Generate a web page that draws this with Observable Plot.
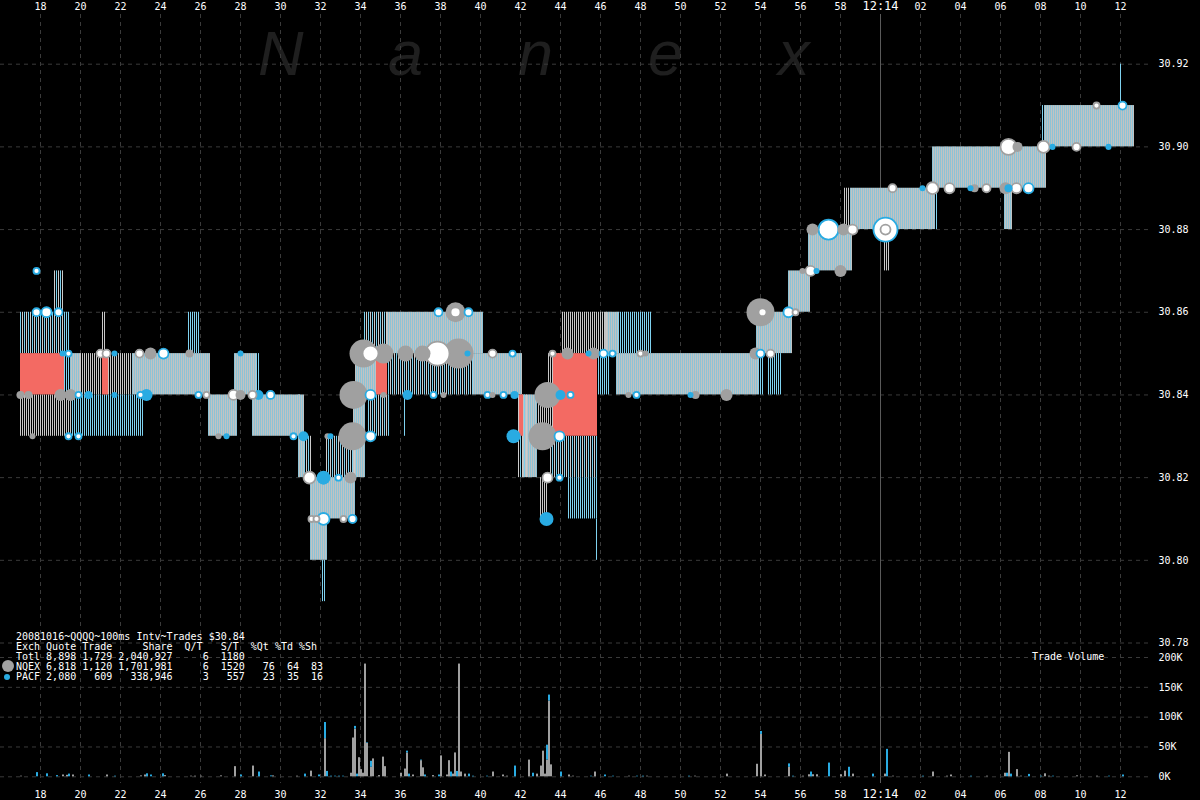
<!DOCTYPE html>
<html><head><meta charset="utf-8">
<script src="https://cdn.jsdelivr.net/npm/d3@7"></script>
<script src="https://cdn.jsdelivr.net/npm/@observablehq/plot@0.6"></script>
<style>
html,body{margin:0;padding:0;background:#000;}
#wrap{position:relative;width:1200px;height:800px;background:#000;overflow:hidden;}
#wrap svg{position:absolute;left:0;top:0;}
#stats{position:absolute;left:16px;top:631.6px;margin:0;font:10px/10px "DejaVu Sans Mono",monospace;color:#fff;white-space:pre;}
#vlabel{position:absolute;left:1032px;top:652px;margin:0;font:10px/10px "DejaVu Sans Mono",monospace;color:#fff;white-space:pre;}
</style></head>
<body><div id="wrap"></div>
<script>
// ---- axis ticks / labels ----
const timeTicks = [18,20,22,24,26,28,30,32,34,36,38,40,42,44,46,48,50,52,54,56,58,60,62,64,66,68,70,72];
const timeTickLabels = ["18","20","22","24","26","28","30","32","34","36","38","40","42","44","46","48","50","52","54","56","58","12:14","02","04","06","08","10","12"];
const priceTicks = [30.78,30.80,30.82,30.84,30.86,30.88,30.90,30.92];
const volumeTicks = [0,50000,100000,150000,200000];
const volumeTickLabels = ["0K","50K","100K","150K","200K"];

// ---- quote bands: [startSec, endSec, low, high, kind] (seconds after 12:13:00) ----
const quoteBands = [
 [17.0,19.2,30.85,30.86,"mix"],[18.65,19.2,30.86,30.87,"mix"],
 [17.0,19.6,30.83,30.84,"gray"],[19.6,23.2,30.83,30.84,"cyan"],
 [19.2,19.5,30.84,30.86,"cyan"],[19.5,20.0,30.84,30.85,"both"],
 [20.0,21.1,30.84,30.85,"gray"],[21.1,21.3,30.85,30.86,"gray"],
 [21.4,22.6,30.84,30.85,"gray"],[22.6,26.5,30.84,30.85,"both"],
 [25.35,26.0,30.85,30.86,"cyan"],[26.4,27.85,30.83,30.84,"both"],
 [27.7,28.8,30.84,30.85,"both"],[28.8,29.0,30.84,30.85,"cyan"],
 [28.6,31.0,30.83,30.84,"both"],[30.9,31.2,30.82,30.84,"both"],
 [31.2,31.6,30.82,30.83,"mix"],[31.5,32.35,30.80,30.82,"both"],
 [32.05,32.3,30.79,30.80,"cyan"],[32.2,33.75,30.81,30.82,"both"],
 [32.25,33.85,30.82,30.83,"mix"],[33.65,34.25,30.82,30.84,"both"],
 [33.75,34.8,30.84,30.85,"both"],[34.35,35.5,30.83,30.84,"mix"],
 [34.2,35.35,30.85,30.86,"mix"],[35.35,40.15,30.85,30.86,"both"],
 [35.35,39.65,30.84,30.85,"mix"],[39.65,42.1,30.84,30.85,"both"],
 [36.2,36.3,30.83,30.84,"cyan"],[41.85,42.35,30.82,30.84,"mix"],
 [42.15,42.85,30.82,30.84,"both"],[42.85,43.85,30.83,30.84,"gray"],
 [43.0,43.35,30.81,30.82,"gray"],[43.4,44.0,30.84,30.85,"gray"],
 [44.1,46.35,30.85,30.86,"gray"],[43.5,45.85,30.82,30.83,"mix"],
 [44.4,45.85,30.81,30.82,"cyan"],[45.8,45.9,30.80,30.81,"cyan"],
 [45.85,46.5,30.84,30.85,"cyan"],[46.25,46.9,30.85,30.86,"both"],
 [46.9,48.6,30.85,30.86,"cyan"],[46.8,53.9,30.84,30.85,"both"],
 [53.9,54.15,30.84,30.85,"cyan"],[54.4,55.1,30.84,30.85,"cyan"],
 [53.8,55.6,30.85,30.86,"both"],[55.4,56.5,30.86,30.87,"both"],
 [56.4,58.6,30.87,30.88,"both"],[58.2,58.5,30.88,30.89,"gray"],
 [58.5,62.75,30.88,30.89,"both"],[60.15,60.5,30.87,30.88,"gray"],
 [62.6,68.3,30.89,30.90,"both"],[62.75,62.85,30.88,30.89,"cyan"],
 [66.2,66.6,30.88,30.89,"both"],[68.1,68.2,30.90,30.91,"cyan"],
 [68.2,72.7,30.90,30.91,"both"],[72.0,72.1,30.91,30.92,"cyan"],
 [17.0,19.2,30.84,30.85,"red"],[21.1,21.4,30.84,30.85,"red"],
 [34.8,35.35,30.84,30.85,"red"],[41.95,42.15,30.83,30.84,"red"],
 [43.65,45.85,30.83,30.85,"red"]
];

// ---- trades: [sec, price, shares, exchange, hollow] ----
const trades = [
 [17.8,30.87,300,"PACF",1],[17.8,30.86,2500,"PACF",1],[18.3,30.86,6900,"PACF",1],[18.9,30.86,2500,"PACF",1],
 [17.0,30.84,2500,"NQEX",0],[17.4,30.84,2500,"NQEX",0],[17.6,30.83,300,"NQEX",0],
 [19.1,30.85,300,"PACF",0],[19.4,30.85,300,"PACF",1],[19.0,30.84,13400,"NQEX",0],[19.5,30.84,13400,"NQEX",0],
 [19.4,30.83,300,"PACF",1],[19.9,30.83,300,"PACF",1],[19.9,30.84,300,"PACF",1],[20.4,30.84,2500,"PACF",0],
 [21.0,30.85,2500,"NQEX",1],[21.3,30.85,2500,"NQEX",1],[21.7,30.85,300,"PACF",0],[21.7,30.84,300,"PACF",0],
 [22.95,30.85,2500,"NQEX",1],[23.5,30.85,13400,"NQEX",0],[23.3,30.84,13400,"PACF",0],[23.0,30.84,300,"PACF",1],
 [24.15,30.85,6900,"PACF",1],[25.45,30.85,2500,"NQEX",0],[25.9,30.84,300,"PACF",1],[26.3,30.84,300,"NQEX",1],
 [26.9,30.83,300,"NQEX",0],[27.3,30.83,300,"PACF",0],[28.0,30.85,300,"PACF",0],[27.65,30.84,6900,"NQEX",1],
 [28.0,30.84,6900,"NQEX",0],[28.6,30.84,2500,"NQEX",1],[28.9,30.84,6900,"PACF",0],[29.5,30.84,2500,"PACF",1],
 [30.65,30.83,300,"PACF",1],[31.15,30.83,6900,"PACF",0],
 [31.45,30.82,13400,"NQEX",1],[32.15,30.82,22200,"PACF",0],[32.9,30.82,300,"PACF",1],[33.5,30.82,13400,"NQEX",0],
 [31.55,30.81,300,"NQEX",1],[31.8,30.81,300,"NQEX",1],[32.15,30.81,13400,"PACF",1],[33.15,30.81,300,"NQEX",1],
 [33.6,30.81,2500,"PACF",1],[32.35,30.83,300,"NQEX",0],[32.5,30.83,300,"PACF",0],[33.6,30.83,145000,"NQEX",0],
 [34.5,30.83,6900,"PACF",1],[33.65,30.84,145000,"NQEX",0],[34.5,30.84,6900,"PACF",1],[35.15,30.84,300,"NQEX",0],
 [36.35,30.84,6900,"PACF",0],[37.65,30.84,300,"PACF",1],[38.15,30.84,300,"NQEX",0],
 [34.15,30.85,145000,"NQEX",0],[34.5,30.85,33200,"NQEX",1],[35.15,30.85,61700,"NQEX",0],[36.25,30.85,33200,"NQEX",0],
 [37.1,30.85,33200,"NQEX",0],[37.85,30.85,99000,"NQEX",1],[38.9,30.85,171000,"NQEX",0],[39.35,30.85,300,"PACF",0],
 [40.6,30.85,2500,"NQEX",1],[41.6,30.85,300,"PACF",1],
 [37.9,30.86,2500,"PACF",1],[38.75,30.86,61700,"NQEX",0],[38.75,30.86,6900,"NQEX",1],[39.4,30.86,2500,"PACF",1],
 [40.35,30.84,300,"PACF",1],[40.6,30.84,300,"NQEX",0],[41.15,30.84,300,"PACF",1],[41.7,30.84,2500,"PACF",0],
 [41.65,30.83,22200,"PACF",0],[43.1,30.83,145000,"NQEX",0],[43.95,30.83,6900,"PACF",1],
 [43.35,30.84,121000,"NQEX",0],[44.0,30.84,6900,"PACF",0],[44.5,30.84,300,"PACF",1],
 [43.35,30.82,6900,"NQEX",1],[43.95,30.82,300,"PACF",1],[43.3,30.81,22200,"PACF",0],
 [43.6,30.85,300,"NQEX",1],[44.35,30.85,13400,"NQEX",0],[45.4,30.85,300,"PACF",0],[45.65,30.85,13400,"NQEX",0],
 [46.15,30.85,2500,"PACF",1],[46.6,30.85,300,"PACF",1],[48.0,30.85,300,"NQEX",1],[48.25,30.85,300,"NQEX",0],
 [47.4,30.84,300,"NQEX",0],[47.8,30.84,300,"PACF",1],[50.5,30.84,300,"PACF",0],[50.75,30.84,2500,"NQEX",0],
 [52.3,30.84,13400,"NQEX",0],[53.75,30.85,13400,"NQEX",0],[54.0,30.85,2500,"PACF",1],[54.5,30.85,2500,"NQEX",1],
 [54.0,30.86,145000,"NQEX",0],[54.1,30.86,2500,"NQEX",1],[55.4,30.86,6900,"PACF",1],[55.75,30.86,300,"NQEX",1],
 [56.1,30.87,300,"NQEX",0],[56.5,30.87,6900,"NQEX",1],[56.8,30.87,300,"PACF",0],[58.0,30.87,13400,"NQEX",0],
 [56.6,30.88,13400,"NQEX",0],[57.4,30.88,61700,"PACF",1],[58.15,30.88,13400,"NQEX",0],[58.6,30.88,6900,"NQEX",1],
 [60.25,30.88,99000,"PACF",1],[60.25,30.88,6900,"NQEX",1],
 [60.6,30.89,2500,"NQEX",1],[62.1,30.89,300,"PACF",0],[62.6,30.89,13400,"NQEX",1],[63.45,30.89,6900,"NQEX",1],
 [64.5,30.89,300,"PACF",0],[64.7,30.89,2500,"NQEX",0],[65.3,30.89,2500,"NQEX",1],[66.25,30.89,13400,"NQEX",0],
 [66.4,30.89,2500,"PACF",0],[66.8,30.89,6900,"NQEX",1],[67.4,30.89,6900,"PACF",1],
 [66.4,30.90,33200,"NQEX",1],[66.85,30.90,6900,"NQEX",0],[68.15,30.90,13400,"NQEX",1],[68.6,30.90,300,"PACF",0],
 [69.8,30.90,2500,"NQEX",1],[71.4,30.90,300,"PACF",0],[70.8,30.91,300,"NQEX",1],[72.1,30.91,2500,"PACF",1]
];

// ---- volume per 100ms interval: [sec, NQEX thousands, PACF thousands] ----
const volumeBars = [
 [17.0,1,0],[17.8,0,7],[18.3,0,5],[18.8,0,2],[19.1,3,0],[19.3,2.5,0],[19.4,0,4.5],[19.6,3,0],[20.4,0,3],
 [21.3,3,0],[21.7,0,1],[23.0,1.5,0],[23.2,3,0],[23.3,0,5],[23.5,0,3],[24.1,0,5],[24.2,2,0],
 [25.5,1,0],[25.7,1,0],[26.0,1,0],[27.0,1.5,0],[27.7,17,0],[28.0,0,3],[28.6,18,0],[28.9,0,8],
 [29.5,0,1.5],[29.6,1.5,0],[30.8,1,0],[31.2,0,4.5],[31.5,9.5,0],[31.9,0,3],
 [32.2,64,27],[32.3,0,9],[32.5,0,1],[32.7,0,1],[32.9,0,1],[33.1,0,1],[33.5,6,0],[33.6,65,0],[33.7,80,4.5],
 [33.8,0,4.5],[33.9,32,0],[34.0,12,0],[34.1,6,0],[34.2,189,0],[34.3,56,1],[34.5,16,10],[34.6,30,0],
 [34.9,2,0],[35.1,33,0],[35.2,17,0],[36.0,6,0],[36.2,13,0],[36.3,40,3],[36.4,0,4.5],[36.6,3,0],
 [37.0,27,1],[37.1,15,0],[37.2,0,3],[37.6,2,0],[37.9,0,3],[38.0,35,0],[38.3,3,0],[38.4,27,0],
 [38.5,0,8],[38.6,4.5,0],[38.7,40,0],[38.8,0,9],[38.9,189,0],[39.0,8,0],[39.2,4.5,0],[39.4,0,4.5],
 [39.6,0,1],[40.3,0,1],[40.6,8,0],[41.1,3,0],[41.3,1,0],[41.7,0,18],[42.4,28,0],[42.6,0,6],
 [42.8,4.5,0],[43.0,18,0],[43.1,43,0],[43.2,4.5,0],[43.3,28,25],[43.4,127,10],[43.5,20,0],[44.0,0,8],
 [44.4,3,0],[44.6,1,0],[45.5,0,1],[45.7,8,0],[46.2,0,3],[46.6,0,1],[47.4,1,0],[47.8,0,1],[48.1,0,1],
 [48.3,1,0],[50.4,0,1],[50.7,1,0],[52.3,4.5,0],[53.8,21,0],[54.0,71,5],[54.2,3,0],[55.4,16,5.6],
 [55.6,0,1],[56.1,1,0],[56.4,3.4,0],[56.5,0,8],[56.6,3.4,0],[56.8,3.4,0],[57.4,0,23],[58.0,3.4,0],
 [58.2,9.5,0],[58.4,0,16],[58.6,4.5,0],[59.6,0,4.5],[60.2,4.5,0],[60.3,0,46],[60.6,1,0],[62.1,0,1],
 [62.6,8,0],[63.3,1,0],[63.5,3,0],[64.5,0,1],[65.3,1,0],[66.2,6,0],[66.3,0,6],[66.4,41,0],[66.5,0,4.5],
 [66.8,12,0],[67.0,1,0],[67.4,0,4],[68.0,0,1],[68.2,5,0],[68.4,1,0],[68.6,0,1],[69.8,1.5,0],
 [70.8,1,0],[71.4,0,1],[72.1,0,3]
];

const statsLines = [
 "20081016~QQQQ~100ms Intv~Trades $30.84",
 "Exch Quote Trade     Share  Q/T   S/T  %Qt %Td %Sh",
 "Totl 8,898 1,729 2,040,927     6  1180",
 "NQEX 6,818 1,120 1,701,981     6  1520   76  64  83",
 "PACF 2,080   609   338,946     3   557   23  35  16"
];
const watermark = ["N","a","n","e","x"];

// ---- colours ----
const GRAY = "#a0a0a0", CYAN = "#29abe2", RED = "#f36a63";
const exchColor = e => e === "NQEX" ? GRAY : CYAN;
const GRID = {stroke: "#3a3a3a", strokeOpacity: 1, strokeDasharray: "4,4"};
const fmtTime = d => timeTickLabels[timeTicks.indexOf(d)];
const xScale = {domain: [18, 72], range: [40, 1120]};
const baseStyle = {background: "transparent", color: "white", fontFamily: "'DejaVu Sans Mono', monospace", fontSize: "10px"};

const bands = quoteBands.map(([t0, t1, lo, hi, kind]) => ({t0, t1, lo, hi, kind}));
const bandMark = (kind, fill) => Plot.rect(bands.filter(b => b.kind === kind), {x1: "t0", x2: "t1", y1: "lo", y2: "hi", fill});
const tradeRows = trades.map(([t, price, shares, exch, hollow]) => ({t, price, shares, exch, hollow}));
const volRows = [
  ...volumeBars.filter(v => v[1] > 0).map(v => ({t: v[0], vol: v[1] * 1000, exch: "NQEX"})),
  ...volumeBars.filter(v => v[2] > 0).map(v => ({t: v[0], vol: v[2] * 1000, exch: "PACF"}))
];

const wrap = document.getElementById("wrap");

// watermark
const wm = d3.create("svg").attr("width", 1200).attr("height", 100);
watermark.forEach((ch, i) => wm.append("text").attr("x", 258 + i * 130).attr("y", 75)
  .attr("font-family", "'Liberation Sans', sans-serif").attr("font-style", "italic")
  .attr("font-size", 63).attr("fill", "#1f1f1f").text(ch));
wrap.appendChild(wm.node());

// price pane
const price = Plot.plot({
  width: 1200, height: 800,
  marginTop: 14, marginRight: 50, marginBottom: 17, marginLeft: 0,
  style: baseStyle,
  x: xScale,
  y: {domain: [30.78, 30.92], range: [642.5, 63.7]},
  r: {type: "sqrt", domain: [0, 200000], range: [2.5, 16]},
  color: {type: "identity"},
  marks: [
    Plot.gridY(priceTicks, GRID),
    Plot.gridX(timeTicks.filter(t => t !== 60), GRID),
    Plot.ruleX([60], {stroke: "#5a5a5a"}),
    bandMark("both", "url(#p-both)"),
    bandMark("mix", "url(#p-mix)"),
    bandMark("gray", "url(#p-gray)"),
    bandMark("cyan", "url(#p-cyan)"),
    bandMark("red", RED),
    Plot.dot(tradeRows, {
      x: "t", y: "price", r: "shares",
      fill: d => d.hollow ? "#ffffff" : exchColor(d.exch),
      stroke: d => d.hollow ? exchColor(d.exch) : "none",
      strokeWidth: 1.8
    }),
    Plot.axisX(timeTicks.filter(t => t !== 60), {anchor: "top", label: null, tickSize: 0, tickPadding: 5, tickFormat: fmtTime, fill: "white"}),
    Plot.axisX([60], {anchor: "top", label: null, tickSize: 0, tickPadding: 5, tickFormat: fmtTime, fill: "white", fontSize: 12}),
    Plot.axisY(priceTicks, {anchor: "right", label: null, tickSize: 0, tickPadding: 8, tickFormat: d => d.toFixed(2), fill: "white", textAnchor: "start"})
  ]
});
// stripe textures, aligned to the pixel grid of the rect groups
let tx = 0;
const rg = price.querySelector('g[aria-label="rect"]');
const trAttr = rg && rg.getAttribute("transform");
if (trAttr) { const m = /translate\(\s*([-\d.e]+)/.exec(trAttr); if (m) tx = +m[1]; }
const defs = d3.select(price).insert("defs", ":first-child");
function pattern(id, cols) {
  const p = defs.append("pattern").attr("id", id).attr("width", cols.length).attr("height", 8)
    .attr("patternUnits", "userSpaceOnUse").attr("patternTransform", `translate(${-tx},0)`);
  cols.forEach((c, i) => { if (c) p.append("rect").attr("x", i).attr("y", 0).attr("width", 1).attr("height", 8).attr("fill", c).attr("shape-rendering", "crispEdges"); });
}
pattern("p-both", ["#8cc3d6", "#c2c2c2"]);
pattern("p-mix", ["#7ccfec", null, "#cccccc", null]);
pattern("p-gray", ["#c8c8c8", null]);
pattern("p-cyan", ["#7fd2f0", null]);
wrap.appendChild(price);

// volume pane
const volume = Plot.plot({
  width: 1200, height: 800,
  marginTop: 0, marginRight: 50, marginBottom: 17, marginLeft: 0,
  style: baseStyle,
  x: xScale,
  y: {domain: [0, 200000], range: [776.3, 657]},
  color: {type: "identity"},
  marks: [
    Plot.gridY(volumeTicks, GRID),
    Plot.rectY(volRows, {x1: "t", x2: d => d.t + 0.1, y: "vol", fill: d => exchColor(d.exch)}),
    Plot.axisX(timeTicks.filter(t => t !== 60), {anchor: "bottom", label: null, tickSize: 0, tickPadding: 7, tickFormat: fmtTime, fill: "white"}),
    Plot.axisX([60], {anchor: "bottom", label: null, tickSize: 0, tickPadding: 6, tickFormat: fmtTime, fill: "white", fontSize: 12}),
    Plot.axisY(volumeTicks, {anchor: "right", label: null, tickSize: 0, tickPadding: 8, tickFormat: d => volumeTickLabels[volumeTicks.indexOf(d)], fill: "white", textAnchor: "start"})
  ]
});
wrap.appendChild(volume);

// stats block + legend symbols
const pre = document.createElement("pre");
pre.id = "stats";
pre.textContent = statsLines.join("\n");
wrap.appendChild(pre);
const leg = d3.create("svg").attr("width", 20).attr("height", 800);
leg.append("circle").attr("cx", 8).attr("cy", 666).attr("r", 6).attr("fill", GRAY);
leg.append("circle").attr("cx", 7).attr("cy", 677).attr("r", 3).attr("fill", CYAN);
wrap.appendChild(leg.node());
const vl = document.createElement("pre");
vl.id = "vlabel";
vl.textContent = "Trade Volume";
wrap.appendChild(vl);
</script>
</body></html>
